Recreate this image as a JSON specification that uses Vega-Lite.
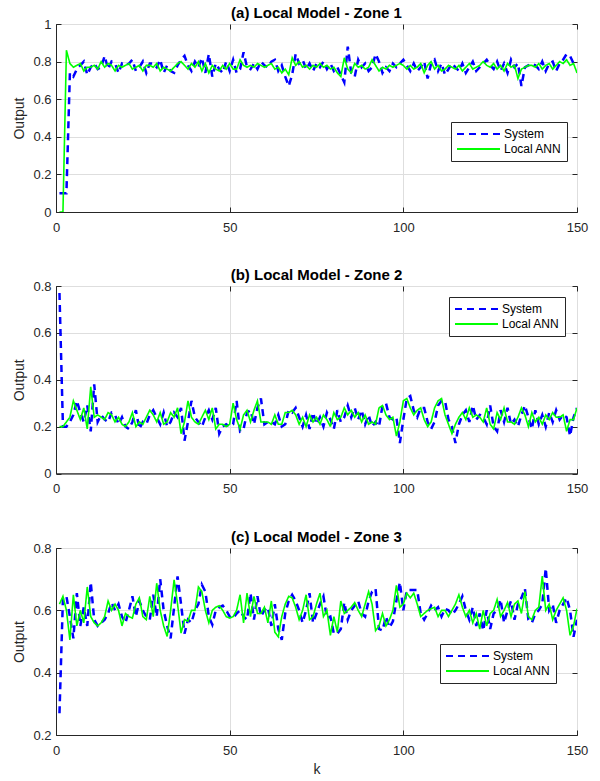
{
  "$schema": "https://vega.github.io/schema/vega-lite/v6.json",
  "padding": {"left": 12, "top": 5, "right": 5, "bottom": 5},
  "background": "white",
  "config": {
    "font": "Liberation Sans",
    "view": {"stroke": "#262626", "strokeWidth": 1},
    "axis": {
      "labelFont": "Liberation Sans", "labelFontSize": 13, "labelColor": "#262626",
      "titleFont": "Liberation Sans", "titleFontSize": 14, "titleFontWeight": "normal", "titleColor": "#262626",
      "domainColor": "#262626", "tickColor": "#262626", "gridColor": "#dedede", "gridWidth": 1,
      "tickSize": -5, "labelFlush": false
    },
    "title": {"font": "Liberation Sans", "fontSize": 15, "fontWeight": "bold", "color": "#000000", "offset": -3},
    "legend": {
      "title": null, "orient": "none", "fillColor": "white", "strokeColor": "#262626", "padding": 5,
      "symbolType": "stroke", "symbolSize": 1849, "symbolStrokeWidth": 2, "clipHeight": 14,
      "labelFont": "Liberation Sans", "labelFontSize": 12, "labelColor": "#000000", "labelOffset": 3, "rowPadding": 1
    }
  },
  "datasets": {
    "z1": [
{"k":1,"System":0.1,"ANN":0},{"k":2,"System":0.1,"ANN":0},{"k":3,"System":0.1,"ANN":0.86},{"k":4,"System":0.74,"ANN":0.79},{"k":5,"System":0.72,"ANN":0.77},
{"k":6,"System":0.76,"ANN":0.78},{"k":7,"System":0.78,"ANN":0.79},{"k":8,"System":0.80,"ANN":0.75},{"k":9,"System":0.73,"ANN":0.77},{"k":10,"System":0.77,"ANN":0.77},
{"k":11,"System":0.79,"ANN":0.78},{"k":12,"System":0.76,"ANN":0.76},{"k":13,"System":0.77,"ANN":0.80},{"k":14,"System":0.83,"ANN":0.77},{"k":15,"System":0.76,"ANN":0.79},
{"k":16,"System":0.80,"ANN":0.78},{"k":17,"System":0.79,"ANN":0.75},{"k":18,"System":0.74,"ANN":0.78},{"k":19,"System":0.79,"ANN":0.77},{"k":20,"System":0.78,"ANN":0.78},
{"k":21,"System":0.79,"ANN":0.79},{"k":22,"System":0.81,"ANN":0.76},{"k":23,"System":0.75,"ANN":0.77},{"k":24,"System":0.77,"ANN":0.78},{"k":25,"System":0.80,"ANN":0.75},
{"k":26,"System":0.74,"ANN":0.78},{"k":27,"System":0.79,"ANN":0.78},{"k":28,"System":0.79,"ANN":0.77},{"k":29,"System":0.77,"ANN":0.79},{"k":30,"System":0.81,"ANN":0.75},
{"k":31,"System":0.74,"ANN":0.77},{"k":32,"System":0.78,"ANN":0.76},{"k":33,"System":0.75,"ANN":0.75},{"k":34,"System":0.74,"ANN":0.77},{"k":35,"System":0.78,"ANN":0.79},
{"k":36,"System":0.81,"ANN":0.80},{"k":37,"System":0.83,"ANN":0.78},{"k":38,"System":0.78,"ANN":0.76},{"k":39,"System":0.75,"ANN":0.79},{"k":40,"System":0.80,"ANN":0.77},
{"k":41,"System":0.77,"ANN":0.80},{"k":42,"System":0.82,"ANN":0.75},{"k":43,"System":0.74,"ANN":0.79},{"k":44,"System":0.84,"ANN":0.74},{"k":45,"System":0.72,"ANN":0.78},
{"k":46,"System":0.79,"ANN":0.76},{"k":47,"System":0.76,"ANN":0.75},{"k":48,"System":0.74,"ANN":0.78},{"k":49,"System":0.80,"ANN":0.76},{"k":50,"System":0.75,"ANN":0.79},
{"k":51,"System":0.81,"ANN":0.76},{"k":52,"System":0.74,"ANN":0.76},{"k":53,"System":0.76,"ANN":0.81},{"k":54,"System":0.85,"ANN":0.78},{"k":55,"System":0.77,"ANN":0.77},
{"k":56,"System":0.76,"ANN":0.78},{"k":57,"System":0.79,"ANN":0.77},{"k":58,"System":0.76,"ANN":0.79},{"k":59,"System":0.80,"ANN":0.78},{"k":60,"System":0.78,"ANN":0.77},
{"k":61,"System":0.77,"ANN":0.78},{"k":62,"System":0.80,"ANN":0.79},{"k":63,"System":0.81,"ANN":0.76},{"k":64,"System":0.75,"ANN":0.77},{"k":65,"System":0.78,"ANN":0.74},
{"k":66,"System":0.72,"ANN":0.76},{"k":67,"System":0.67,"ANN":0.73},{"k":68,"System":0.73,"ANN":0.82},{"k":69,"System":0.84,"ANN":0.78},{"k":70,"System":0.79,"ANN":0.80},
{"k":71,"System":0.81,"ANN":0.77},{"k":72,"System":0.76,"ANN":0.78},{"k":73,"System":0.79,"ANN":0.76},{"k":74,"System":0.75,"ANN":0.78},{"k":75,"System":0.79,"ANN":0.77},
{"k":76,"System":0.77,"ANN":0.79},{"k":77,"System":0.80,"ANN":0.77},{"k":78,"System":0.76,"ANN":0.78},{"k":79,"System":0.79,"ANN":0.76},{"k":80,"System":0.75,"ANN":0.77},
{"k":81,"System":0.77,"ANN":0.74},{"k":82,"System":0.73,"ANN":0.72},{"k":83,"System":0.69,"ANN":0.82},{"k":84,"System":0.88,"ANN":0.76},{"k":85,"System":0.74,"ANN":0.74},
{"k":86,"System":0.72,"ANN":0.79},{"k":87,"System":0.81,"ANN":0.77},{"k":88,"System":0.77,"ANN":0.78},{"k":89,"System":0.79,"ANN":0.76},{"k":90,"System":0.75,"ANN":0.77},
{"k":91,"System":0.77,"ANN":0.81},{"k":92,"System":0.84,"ANN":0.78},{"k":93,"System":0.80,"ANN":0.75},{"k":94,"System":0.74,"ANN":0.77},{"k":95,"System":0.77,"ANN":0.76},
{"k":96,"System":0.75,"ANN":0.78},{"k":97,"System":0.79,"ANN":0.77},{"k":98,"System":0.77,"ANN":0.78},{"k":99,"System":0.79,"ANN":0.79},{"k":100,"System":0.81,"ANN":0.78},
{"k":101,"System":0.78,"ANN":0.76},{"k":102,"System":0.75,"ANN":0.78},{"k":103,"System":0.79,"ANN":0.76},{"k":104,"System":0.75,"ANN":0.77},{"k":105,"System":0.77,"ANN":0.79},
{"k":106,"System":0.80,"ANN":0.74},{"k":107,"System":0.71,"ANN":0.78},{"k":108,"System":0.79,"ANN":0.80},{"k":109,"System":0.81,"ANN":0.76},{"k":110,"System":0.75,"ANN":0.78},
{"k":111,"System":0.79,"ANN":0.75},{"k":112,"System":0.73,"ANN":0.76},{"k":113,"System":0.76,"ANN":0.78},{"k":114,"System":0.79,"ANN":0.77},{"k":115,"System":0.77,"ANN":0.76},
{"k":116,"System":0.75,"ANN":0.78},{"k":117,"System":0.79,"ANN":0.75},{"k":118,"System":0.74,"ANN":0.77},{"k":119,"System":0.77,"ANN":0.79},{"k":120,"System":0.80,"ANN":0.76},
{"k":121,"System":0.75,"ANN":0.77},{"k":122,"System":0.77,"ANN":0.78},{"k":123,"System":0.79,"ANN":0.80},{"k":124,"System":0.81,"ANN":0.78},{"k":125,"System":0.78,"ANN":0.77},
{"k":126,"System":0.76,"ANN":0.79},{"k":127,"System":0.80,"ANN":0.76},{"k":128,"System":0.75,"ANN":0.78},{"k":129,"System":0.79,"ANN":0.75},{"k":130,"System":0.74,"ANN":0.79},
{"k":131,"System":0.81,"ANN":0.77},{"k":132,"System":0.77,"ANN":0.78},{"k":133,"System":0.79,"ANN":0.71},{"k":134,"System":0.67,"ANN":0.76},{"k":135,"System":0.77,"ANN":0.77},
{"k":136,"System":0.78,"ANN":0.78},{"k":137,"System":0.79,"ANN":0.78},{"k":138,"System":0.78,"ANN":0.77},{"k":139,"System":0.76,"ANN":0.79},{"k":140,"System":0.80,"ANN":0.76},
{"k":141,"System":0.75,"ANN":0.78},{"k":142,"System":0.79,"ANN":0.79},{"k":143,"System":0.80,"ANN":0.76},{"k":144,"System":0.75,"ANN":0.78},{"k":145,"System":0.79,"ANN":0.80},
{"k":146,"System":0.81,"ANN":0.79},{"k":147,"System":0.84,"ANN":0.81},{"k":148,"System":0.83,"ANN":0.78},{"k":149,"System":0.79,"ANN":0.79},{"k":150,"System":0.80,"ANN":0.74}
    ],
    "z2": [
{"k":1,"System":0.77,"ANN":0.20},{"k":2,"System":0.20,"ANN":0.20},{"k":3,"System":0.20,"ANN":0.22},{"k":4,"System":0.22,"ANN":0.24},{"k":5,"System":0.25,"ANN":0.31},
{"k":6,"System":0.31,"ANN":0.27},{"k":7,"System":0.26,"ANN":0.23},{"k":8,"System":0.22,"ANN":0.28},{"k":9,"System":0.29,"ANN":0.19},{"k":10,"System":0.18,"ANN":0.37},
{"k":11,"System":0.38,"ANN":0.24},{"k":12,"System":0.22,"ANN":0.25},{"k":13,"System":0.25,"ANN":0.24},{"k":14,"System":0.23,"ANN":0.23},{"k":15,"System":0.22,"ANN":0.26},
{"k":16,"System":0.26,"ANN":0.25},{"k":17,"System":0.25,"ANN":0.22},{"k":18,"System":0.21,"ANN":0.24},{"k":19,"System":0.24,"ANN":0.21},{"k":20,"System":0.20,"ANN":0.20},
{"k":21,"System":0.19,"ANN":0.22},{"k":22,"System":0.22,"ANN":0.26},{"k":23,"System":0.27,"ANN":0.20},{"k":24,"System":0.19,"ANN":0.22},{"k":25,"System":0.22,"ANN":0.21},
{"k":26,"System":0.21,"ANN":0.24},{"k":27,"System":0.25,"ANN":0.27},{"k":28,"System":0.27,"ANN":0.25},{"k":29,"System":0.24,"ANN":0.22},{"k":30,"System":0.21,"ANN":0.26},
{"k":31,"System":0.26,"ANN":0.21},{"k":32,"System":0.20,"ANN":0.22},{"k":33,"System":0.22,"ANN":0.26},{"k":34,"System":0.26,"ANN":0.24},{"k":35,"System":0.24,"ANN":0.28},
{"k":36,"System":0.28,"ANN":0.17},{"k":37,"System":0.14,"ANN":0.22},{"k":38,"System":0.22,"ANN":0.31},{"k":39,"System":0.31,"ANN":0.24},{"k":40,"System":0.24,"ANN":0.22},
{"k":41,"System":0.22,"ANN":0.21},{"k":42,"System":0.20,"ANN":0.24},{"k":43,"System":0.24,"ANN":0.27},{"k":44,"System":0.27,"ANN":0.23},{"k":45,"System":0.23,"ANN":0.28},
{"k":46,"System":0.28,"ANN":0.19},{"k":47,"System":0.17,"ANN":0.21},{"k":48,"System":0.20,"ANN":0.21},{"k":49,"System":0.21,"ANN":0.20},{"k":50,"System":0.20,"ANN":0.21},
{"k":51,"System":0.21,"ANN":0.30},{"k":52,"System":0.31,"ANN":0.23},{"k":53,"System":0.18,"ANN":0.19},{"k":54,"System":0.19,"ANN":0.25},{"k":55,"System":0.26,"ANN":0.27},
{"k":56,"System":0.27,"ANN":0.22},{"k":57,"System":0.21,"ANN":0.27},{"k":58,"System":0.28,"ANN":0.31},{"k":59,"System":0.32,"ANN":0.22},{"k":60,"System":0.21,"ANN":0.22},
{"k":61,"System":0.22,"ANN":0.22},{"k":62,"System":0.22,"ANN":0.21},{"k":63,"System":0.21,"ANN":0.25},{"k":64,"System":0.25,"ANN":0.21},{"k":65,"System":0.20,"ANN":0.21},
{"k":66,"System":0.21,"ANN":0.26},{"k":67,"System":0.27,"ANN":0.26},{"k":68,"System":0.26,"ANN":0.27},{"k":69,"System":0.28,"ANN":0.25},{"k":70,"System":0.24,"ANN":0.21},
{"k":71,"System":0.20,"ANN":0.24},{"k":72,"System":0.25,"ANN":0.20},{"k":73,"System":0.19,"ANN":0.25},{"k":74,"System":0.26,"ANN":0.22},{"k":75,"System":0.21,"ANN":0.24},
{"k":76,"System":0.24,"ANN":0.21},{"k":77,"System":0.20,"ANN":0.25},{"k":78,"System":0.26,"ANN":0.23},{"k":79,"System":0.23,"ANN":0.20},{"k":80,"System":0.19,"ANN":0.26},
{"k":81,"System":0.27,"ANN":0.23},{"k":82,"System":0.22,"ANN":0.24},{"k":83,"System":0.24,"ANN":0.28},{"k":84,"System":0.29,"ANN":0.25},{"k":85,"System":0.24,"ANN":0.27},
{"k":86,"System":0.28,"ANN":0.24},{"k":87,"System":0.23,"ANN":0.26},{"k":88,"System":0.27,"ANN":0.22},{"k":89,"System":0.21,"ANN":0.25},{"k":90,"System":0.25,"ANN":0.21},
{"k":91,"System":0.20,"ANN":0.22},{"k":92,"System":0.22,"ANN":0.21},{"k":93,"System":0.20,"ANN":0.28},{"k":94,"System":0.29,"ANN":0.29},{"k":95,"System":0.30,"ANN":0.25},
{"k":96,"System":0.24,"ANN":0.23},{"k":97,"System":0.23,"ANN":0.24},{"k":98,"System":0.24,"ANN":0.16},{"k":99,"System":0.13,"ANN":0.22},{"k":100,"System":0.23,"ANN":0.31},
{"k":101,"System":0.32,"ANN":0.32},{"k":102,"System":0.33,"ANN":0.28},{"k":103,"System":0.27,"ANN":0.25},{"k":104,"System":0.24,"ANN":0.27},{"k":105,"System":0.28,"ANN":0.28},
{"k":106,"System":0.28,"ANN":0.23},{"k":107,"System":0.22,"ANN":0.20},{"k":108,"System":0.19,"ANN":0.22},{"k":109,"System":0.22,"ANN":0.28},{"k":110,"System":0.29,"ANN":0.31},
{"k":111,"System":0.31,"ANN":0.32},{"k":112,"System":0.31,"ANN":0.25},{"k":113,"System":0.23,"ANN":0.21},{"k":114,"System":0.20,"ANN":0.17},{"k":115,"System":0.13,"ANN":0.21},
{"k":116,"System":0.21,"ANN":0.24},{"k":117,"System":0.25,"ANN":0.26},{"k":118,"System":0.27,"ANN":0.23},{"k":119,"System":0.22,"ANN":0.28},{"k":120,"System":0.29,"ANN":0.24},
{"k":121,"System":0.23,"ANN":0.25},{"k":122,"System":0.25,"ANN":0.24},{"k":123,"System":0.24,"ANN":0.22},{"k":124,"System":0.21,"ANN":0.28},{"k":125,"System":0.29,"ANN":0.21},
{"k":126,"System":0.20,"ANN":0.19},{"k":127,"System":0.18,"ANN":0.26},{"k":128,"System":0.27,"ANN":0.23},{"k":129,"System":0.22,"ANN":0.28},{"k":130,"System":0.28,"ANN":0.22},
{"k":131,"System":0.21,"ANN":0.22},{"k":132,"System":0.23,"ANN":0.21},{"k":133,"System":0.20,"ANN":0.24},{"k":134,"System":0.25,"ANN":0.28},{"k":135,"System":0.29,"ANN":0.25},
{"k":136,"System":0.24,"ANN":0.20},{"k":137,"System":0.19,"ANN":0.26},{"k":138,"System":0.27,"ANN":0.22},{"k":139,"System":0.21,"ANN":0.24},{"k":140,"System":0.25,"ANN":0.21},
{"k":141,"System":0.20,"ANN":0.25},{"k":142,"System":0.26,"ANN":0.23},{"k":143,"System":0.22,"ANN":0.26},{"k":144,"System":0.27,"ANN":0.24},{"k":145,"System":0.23,"ANN":0.24},
{"k":146,"System":0.25,"ANN":0.25},{"k":147,"System":0.24,"ANN":0.18},{"k":148,"System":0.16,"ANN":0.23},{"k":149,"System":0.24,"ANN":0.23},{"k":150,"System":0.28,"ANN":0.28}
    ],
    "z3": [
{"k":1,"System":0.27,"ANN":0.62},{"k":2,"System":0.64,"ANN":0.645},{"k":3,"System":0.645,"ANN":0.60},{"k":4,"System":0.58,"ANN":0.505},{"k":5,"System":0.51,"ANN":0.65},
{"k":6,"System":0.655,"ANN":0.55},{"k":7,"System":0.55,"ANN":0.60},{"k":8,"System":0.61,"ANN":0.56},{"k":9,"System":0.55,"ANN":0.675},{"k":10,"System":0.69,"ANN":0.58},
{"k":11,"System":0.57,"ANN":0.56},{"k":12,"System":0.55,"ANN":0.55},{"k":13,"System":0.56,"ANN":0.56},{"k":14,"System":0.57,"ANN":0.58},{"k":15,"System":0.59,"ANN":0.63},
{"k":16,"System":0.625,"ANN":0.60},{"k":17,"System":0.60,"ANN":0.62},{"k":18,"System":0.62,"ANN":0.60},{"k":19,"System":0.58,"ANN":0.55},{"k":20,"System":0.56,"ANN":0.59},
{"k":21,"System":0.60,"ANN":0.58},{"k":22,"System":0.645,"ANN":0.575},{"k":23,"System":0.58,"ANN":0.62},{"k":24,"System":0.63,"ANN":0.64},{"k":25,"System":0.60,"ANN":0.58},
{"k":26,"System":0.58,"ANN":0.57},{"k":27,"System":0.57,"ANN":0.645},{"k":28,"System":0.65,"ANN":0.58},{"k":29,"System":0.58,"ANN":0.687},{"k":30,"System":0.70,"ANN":0.60},
{"k":31,"System":0.60,"ANN":0.55},{"k":32,"System":0.55,"ANN":0.516},{"k":33,"System":0.51,"ANN":0.60},{"k":34,"System":0.61,"ANN":0.698},{"k":35,"System":0.709,"ANN":0.62},
{"k":36,"System":0.62,"ANN":0.527},{"k":37,"System":0.525,"ANN":0.57},{"k":38,"System":0.57,"ANN":0.565},{"k":39,"System":0.56,"ANN":0.60},{"k":40,"System":0.60,"ANN":0.60},
{"k":41,"System":0.62,"ANN":0.675},{"k":42,"System":0.682,"ANN":0.66},{"k":43,"System":0.66,"ANN":0.60},{"k":44,"System":0.58,"ANN":0.56},{"k":45,"System":0.554,"ANN":0.60},
{"k":46,"System":0.60,"ANN":0.61},{"k":47,"System":0.61,"ANN":0.615},{"k":48,"System":0.615,"ANN":0.60},{"k":49,"System":0.60,"ANN":0.58},{"k":50,"System":0.58,"ANN":0.575},
{"k":51,"System":0.575,"ANN":0.58},{"k":52,"System":0.59,"ANN":0.60},{"k":53,"System":0.60,"ANN":0.65},{"k":54,"System":0.58,"ANN":0.56},{"k":55,"System":0.57,"ANN":0.655},
{"k":56,"System":0.655,"ANN":0.58},{"k":57,"System":0.57,"ANN":0.645},{"k":58,"System":0.645,"ANN":0.59},{"k":59,"System":0.58,"ANN":0.59},{"k":60,"System":0.60,"ANN":0.61},
{"k":61,"System":0.61,"ANN":0.56},{"k":62,"System":0.55,"ANN":0.63},{"k":63,"System":0.62,"ANN":0.53},{"k":64,"System":0.54,"ANN":0.515},{"k":65,"System":0.505,"ANN":0.58},
{"k":66,"System":0.59,"ANN":0.62},{"k":67,"System":0.63,"ANN":0.645},{"k":68,"System":0.65,"ANN":0.64},{"k":69,"System":0.63,"ANN":0.61},{"k":70,"System":0.60,"ANN":0.57},
{"k":71,"System":0.56,"ANN":0.60},{"k":72,"System":0.60,"ANN":0.65},{"k":73,"System":0.655,"ANN":0.57},{"k":74,"System":0.56,"ANN":0.58},{"k":75,"System":0.59,"ANN":0.62},
{"k":76,"System":0.62,"ANN":0.655},{"k":77,"System":0.645,"ANN":0.58},{"k":78,"System":0.575,"ANN":0.60},{"k":79,"System":0.58,"ANN":0.52},{"k":80,"System":0.525,"ANN":0.58},
{"k":81,"System":0.525,"ANN":0.53},{"k":82,"System":0.54,"ANN":0.63},{"k":83,"System":0.625,"ANN":0.59},{"k":84,"System":0.57,"ANN":0.60},{"k":85,"System":0.60,"ANN":0.61},
{"k":86,"System":0.615,"ANN":0.625},{"k":87,"System":0.63,"ANN":0.60},{"k":88,"System":0.59,"ANN":0.58},{"k":89,"System":0.58,"ANN":0.62},{"k":90,"System":0.63,"ANN":0.66},
{"k":91,"System":0.66,"ANN":0.62},{"k":92,"System":0.67,"ANN":0.535},{"k":93,"System":0.54,"ANN":0.55},{"k":94,"System":0.535,"ANN":0.59},{"k":95,"System":0.58,"ANN":0.55},
{"k":96,"System":0.545,"ANN":0.57},{"k":97,"System":0.565,"ANN":0.60},{"k":98,"System":0.63,"ANN":0.68},{"k":99,"System":0.69,"ANN":0.61},{"k":100,"System":0.60,"ANN":0.62},
{"k":101,"System":0.665,"ANN":0.655},{"k":102,"System":0.665,"ANN":0.64},{"k":103,"System":0.665,"ANN":0.655},{"k":104,"System":0.665,"ANN":0.62},{"k":105,"System":0.59,"ANN":0.58},
{"k":106,"System":0.57,"ANN":0.59},{"k":107,"System":0.59,"ANN":0.60},{"k":108,"System":0.615,"ANN":0.605},{"k":109,"System":0.60,"ANN":0.61},{"k":110,"System":0.61,"ANN":0.58},
{"k":111,"System":0.58,"ANN":0.60},{"k":112,"System":0.605,"ANN":0.60},{"k":113,"System":0.60,"ANN":0.58},{"k":114,"System":0.585,"ANN":0.60},{"k":115,"System":0.60,"ANN":0.62},
{"k":116,"System":0.62,"ANN":0.65},{"k":117,"System":0.645,"ANN":0.61},{"k":118,"System":0.60,"ANN":0.58},{"k":119,"System":0.57,"ANN":0.60},{"k":120,"System":0.61,"ANN":0.56},
{"k":121,"System":0.55,"ANN":0.59},{"k":122,"System":0.59,"ANN":0.54},{"k":123,"System":0.535,"ANN":0.60},{"k":124,"System":0.60,"ANN":0.55},{"k":125,"System":0.54,"ANN":0.59},
{"k":126,"System":0.59,"ANN":0.60},{"k":127,"System":0.60,"ANN":0.635},{"k":128,"System":0.635,"ANN":0.58},{"k":129,"System":0.56,"ANN":0.60},{"k":130,"System":0.60,"ANN":0.625},
{"k":131,"System":0.63,"ANN":0.58},{"k":132,"System":0.57,"ANN":0.62},{"k":133,"System":0.62,"ANN":0.63},{"k":134,"System":0.64,"ANN":0.59},{"k":135,"System":0.67,"ANN":0.66},
{"k":136,"System":0.57,"ANN":0.58},{"k":137,"System":0.56,"ANN":0.57},{"k":138,"System":0.59,"ANN":0.60},{"k":139,"System":0.60,"ANN":0.61},{"k":140,"System":0.62,"ANN":0.71},
{"k":141,"System":0.735,"ANN":0.60},{"k":142,"System":0.60,"ANN":0.62},{"k":143,"System":0.62,"ANN":0.57},{"k":144,"System":0.56,"ANN":0.60},{"k":145,"System":0.60,"ANN":0.62},
{"k":146,"System":0.62,"ANN":0.64},{"k":147,"System":0.64,"ANN":0.60},{"k":148,"System":0.60,"ANN":0.52},{"k":149,"System":0.515,"ANN":0.55},{"k":150,"System":0.57,"ANN":0.605}
    ]
  },
  "vconcat": [
    {
      "title": "(a) Local Model - Zone 1",
      "width": 521, "height": 188,
      "data": {"name": "z1"},
      "layer": [
        {
          "mark": {"type": "line", "strokeWidth": 2.5, "clip": true},
          "encoding": {
            "x": {"field": "k", "type": "quantitative", "scale": {"domain": [0, 150], "nice": false}, "axis": {"values": [0, 50, 100, 150], "title": null, "grid": true, "labelPadding": 14}},
            "y": {"field": "System", "type": "quantitative", "scale": {"domain": [0, 1], "nice": false, "zero": false}, "axis": {"values": [0, 0.2, 0.4, 0.6, 0.8, 1], "format": "~g", "title": "Output", "grid": true, "labelPadding": 10, "titlePadding": 6}},
            "color": {"datum": "System", "type": "nominal", "scale": {"domain": ["System", "Local ANN"], "range": ["#0000ff", "#00ff00"]}, "legend": {"legendX": 395, "legendY": 98}},
            "strokeDash": {"datum": "System", "type": "nominal", "scale": {"domain": ["System", "Local ANN"], "range": [[7, 5], [1, 0]]}, "legend": {"legendX": 395, "legendY": 98}}
          }
        },
        {
          "mark": {"type": "line", "strokeWidth": 1.6, "clip": true},
          "encoding": {
            "x": {"field": "k", "type": "quantitative", "axis": {"orient": "top", "values": [0, 50, 100, 150], "labels": false, "grid": false, "domain": false, "title": null}},
            "y": {"field": "ANN", "type": "quantitative", "axis": {"orient": "right", "values": [0, 0.2, 0.4, 0.6, 0.8, 1], "labels": false, "grid": false, "domain": false, "title": null}},
            "color": {"datum": "Local ANN", "type": "nominal"},
            "strokeDash": {"datum": "Local ANN", "type": "nominal"}
          }
        }
      ],
      "resolve": {"axis": {"x": "independent", "y": "independent"}}
    },
    {
      "title": "(b) Local Model - Zone 2",
      "width": 521, "height": 187.5,
      "data": {"name": "z2"},
      "layer": [
        {
          "mark": {"type": "line", "strokeWidth": 2.5, "clip": true},
          "encoding": {
            "x": {"field": "k", "type": "quantitative", "scale": {"domain": [0, 150], "nice": false}, "axis": {"values": [0, 50, 100, 150], "title": null, "grid": true, "labelPadding": 14}},
            "y": {"field": "System", "type": "quantitative", "scale": {"domain": [0, 0.8], "nice": false, "zero": false}, "axis": {"values": [0, 0.2, 0.4, 0.6, 0.8], "format": "~g", "title": "Output", "grid": true, "labelPadding": 10, "titlePadding": 6}},
            "color": {"datum": "System", "type": "nominal", "scale": {"domain": ["System", "Local ANN"], "range": ["#0000ff", "#00ff00"]}, "legend": {"legendX": 393, "legendY": 11}},
            "strokeDash": {"datum": "System", "type": "nominal", "scale": {"domain": ["System", "Local ANN"], "range": [[7, 5], [1, 0]]}, "legend": {"legendX": 393, "legendY": 11}}
          }
        },
        {
          "mark": {"type": "line", "strokeWidth": 1.6, "clip": true},
          "encoding": {
            "x": {"field": "k", "type": "quantitative", "axis": {"orient": "top", "values": [0, 50, 100, 150], "labels": false, "grid": false, "domain": false, "title": null}},
            "y": {"field": "ANN", "type": "quantitative", "axis": {"orient": "right", "values": [0, 0.2, 0.4, 0.6, 0.8], "labels": false, "grid": false, "domain": false, "title": null}},
            "color": {"datum": "Local ANN", "type": "nominal"},
            "strokeDash": {"datum": "Local ANN", "type": "nominal"}
          }
        }
      ],
      "resolve": {"axis": {"x": "independent", "y": "independent"}}
    },
    {
      "title": "(c) Local Model - Zone 3",
      "width": 521, "height": 187,
      "data": {"name": "z3"},
      "layer": [
        {
          "mark": {"type": "line", "strokeWidth": 2.5, "clip": true},
          "encoding": {
            "x": {"field": "k", "type": "quantitative", "scale": {"domain": [0, 150], "nice": false}, "axis": {"values": [0, 50, 100, 150], "title": "k", "grid": true, "labelPadding": 14, "titlePadding": 5}},
            "y": {"field": "System", "type": "quantitative", "scale": {"domain": [0.2, 0.8], "nice": false, "zero": false}, "axis": {"values": [0.2, 0.4, 0.6, 0.8], "format": "~g", "title": "Output", "grid": true, "labelPadding": 10, "titlePadding": 6}},
            "color": {"datum": "System", "type": "nominal", "scale": {"domain": ["System", "Local ANN"], "range": ["#0000ff", "#00ff00"]}, "legend": {"legendX": 384, "legendY": 96}},
            "strokeDash": {"datum": "System", "type": "nominal", "scale": {"domain": ["System", "Local ANN"], "range": [[7, 5], [1, 0]]}, "legend": {"legendX": 384, "legendY": 96}}
          }
        },
        {
          "mark": {"type": "line", "strokeWidth": 1.6, "clip": true},
          "encoding": {
            "x": {"field": "k", "type": "quantitative", "axis": {"orient": "top", "values": [0, 50, 100, 150], "labels": false, "grid": false, "domain": false, "title": null}},
            "y": {"field": "ANN", "type": "quantitative", "axis": {"orient": "right", "values": [0.2, 0.4, 0.6, 0.8], "labels": false, "grid": false, "domain": false, "title": null}},
            "color": {"datum": "Local ANN", "type": "nominal"},
            "strokeDash": {"datum": "Local ANN", "type": "nominal"}
          }
        }
      ],
      "resolve": {"axis": {"x": "independent", "y": "independent"}}
    }
  ],
  "spacing": 74,
  "bounds": "flush",
  "resolve": {"scale": {"color": "independent", "strokeDash": "independent"}}
}
